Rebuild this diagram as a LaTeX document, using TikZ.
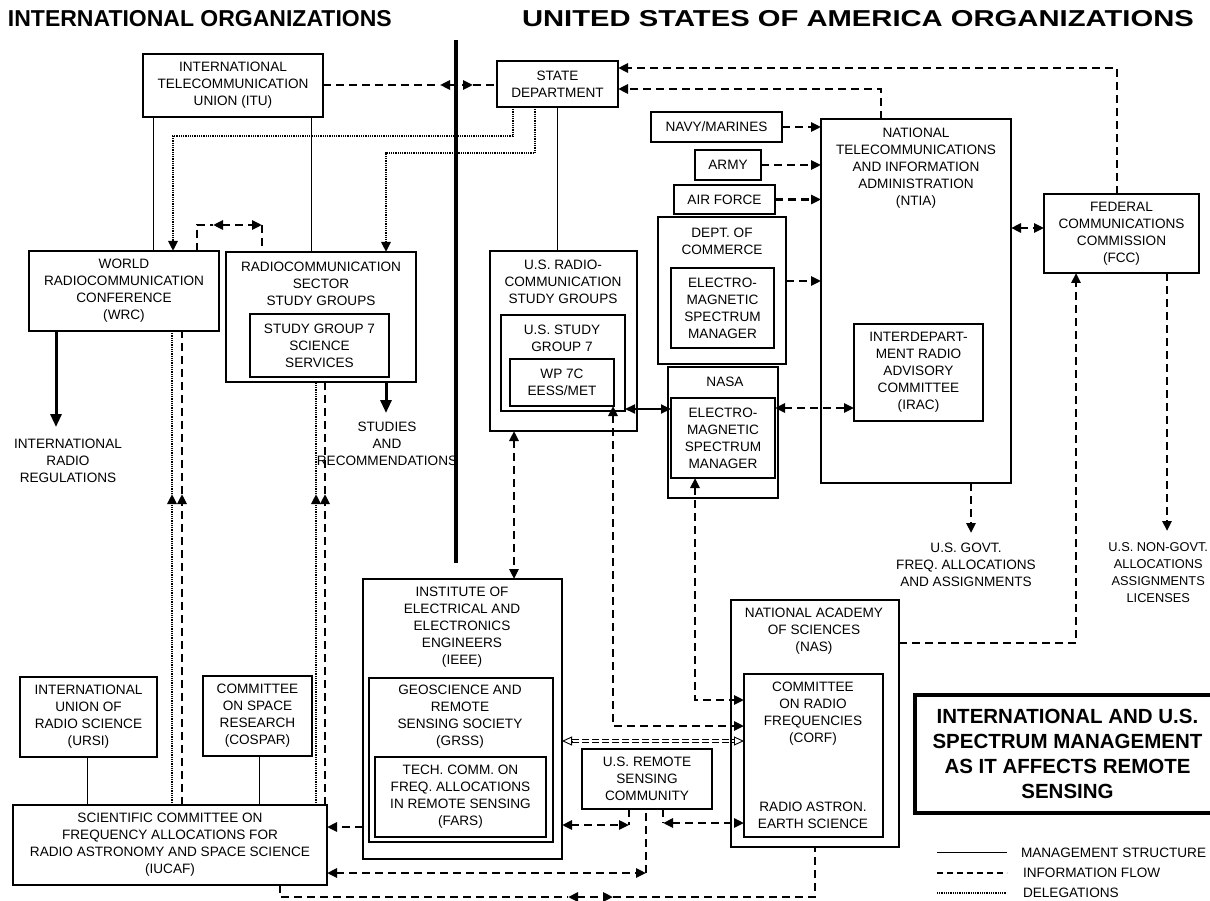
\documentclass[tikz,border=0pt]{standalone}
\usepackage{fontspec}
\setmainfont{Liberation Sans}
\usetikzlibrary{arrows.meta}
\newcommand\bx[6]{\node[boxst, minimum width={(#4-#2)*1pt}, minimum height={(#5-#3)*1pt}] (#1) at ({(#2+#4)/2},{(#3+#5)/2}) {#6};}
\begin{document}
\begin{tikzpicture}[x=1pt,y=-1pt,
  every node/.style={font=\fontsize{13.6pt}{17pt}\selectfont, align=center, inner sep=0pt, outer sep=0pt},
  boxst/.style={draw, line width=1.2pt},
  mgmt/.style={line width=1pt},
  info/.style={line width=2.8pt, dash pattern=on 8pt off 5pt},
  deleg/.style={line width=2.5pt, dash pattern=on 1pt off 0.8pt},
  bigarrow/.style={line width=3pt, -{Triangle[length=13pt,width=11pt]}},
  hollowout/.style={line width=3.2pt, dash pattern=on 7pt off 3pt},
  hollowin/.style={white, line width=1.4pt, dash pattern=on 7pt off 3pt},
  opentip/.style={line width=0.9pt, -{Triangle[open,length=10pt,width=9pt]}},
  >={Triangle[length=10pt,width=9pt]}
]
\fill[white] (0,0) rectangle (1210,901);
\useasboundingbox (0,0) rectangle (1210,901);

% headings
\node[anchor=west, font=\bfseries\fontsize{23pt}{27pt}\selectfont] (hInt) at (8,19) {INTERNATIONAL ORGANIZATIONS};
\node[anchor=west, font=\bfseries\fontsize{23pt}{27pt}\selectfont] (hUS) at (522,19) {\scalebox{1.27}[1]{UNITED STATES OF AMERICA ORGANIZATIONS}};
\draw[line width=4pt] (456,40) -- (456,563);

% boxes
\bx{ITU}{143}{54}{323}{117}{INTERNATIONAL\\TELECOMMUNICATION\\UNION (ITU)}
\bx{State}{497}{61}{618}{107}{STATE\\DEPARTMENT}
\bx{Navy}{651}{112}{782}{142}{NAVY/MARINES}
\bx{Army}{695}{150}{761}{180}{ARMY}
\bx{AirF}{674}{185}{775}{214}{AIR FORCE}
\bx{Com}{658}{217}{786}{364}{}
\node (comT) at (722,241) {DEPT. OF\\COMMERCE};
\bx{ComEMS}{671}{268}{774}{348}{ELECTRO-\\MAGNETIC\\SPECTRUM\\MANAGER}
\bx{NTIA}{821}{119}{1011}{483}{}
\node (ntiaT) at (916,168) {NATIONAL\\TELECOMMUNICATIONS\\AND INFORMATION\\ADMINISTRATION\\(NTIA)};
\bx{IRAC}{854}{324}{983}{421}{INTERDEPART-\\MENT RADIO\\ADVISORY\\COMMITTEE\\(IRAC)}
\bx{FCC}{1044}{194}{1199}{273}{FEDERAL\\COMMUNICATIONS\\COMMISSION\\(FCC)}
\bx{WRC}{29}{251}{219}{331}{WORLD\\RADIOCOMMUNICATION\\CONFERENCE\\(WRC)}
\bx{RSG}{226}{252}{416}{382}{}
\node (rsgT) at (321,284) {RADIOCOMMUNICATION\\SECTOR\\STUDY GROUPS};
\bx{SG7}{250}{314}{389}{377}{STUDY GROUP 7\\SCIENCE\\SERVICES}
\bx{URSI}{20}{677}{157}{757}{INTERNATIONAL\\UNION OF\\RADIO SCIENCE\\(URSI)}
\bx{COSPAR}{203}{676}{312}{756}{COMMITTEE\\ON SPACE\\RESEARCH\\(COSPAR)}
\bx{IUCAF}{13}{805}{327}{885}{SCIENTIFIC COMMITTEE ON\\FREQUENCY ALLOCATIONS FOR\\RADIO ASTRONOMY AND SPACE SCIENCE\\(IUCAF)}
\bx{IEEE}{363}{579}{562}{859}{}
\node (ieeeT) at (462,627) {INSTITUTE OF\\ELECTRICAL AND\\ELECTRONICS\\ENGINEERS\\(IEEE)};
\bx{GRSS}{369}{678}{553}{842}{}
\node (grssT) at (460,717) {GEOSCIENCE AND\\REMOTE\\SENSING SOCIETY\\(GRSS)};
\bx{FARS}{375}{757}{546}{837}{TECH. COMM. ON\\FREQ. ALLOCATIONS\\IN REMOTE SENSING\\(FARS)}
\bx{USR}{490}{251}{637}{431}{}
\node (usrT) at (563,282) {U.S. RADIO-\\COMMUNICATION\\STUDY GROUPS};
\bx{USSG}{501}{315}{625}{411}{}
\node (ussgT) at (562,338) {U.S. STUDY\\GROUP 7};
\bx{WP}{510}{359}{614}{406}{WP 7C\\EESS/MET}
\bx{NASA}{668}{367}{778}{498}{}
\node (nasaT) at (725,382) {NASA};
\bx{NEMS}{671}{398}{775}{478}{ELECTRO-\\MAGNETIC\\SPECTRUM\\MANAGER}
\bx{NAS}{731}{600}{899}{847}{}
\node (nasT) at (814,631) {NATIONAL ACADEMY\\OF SCIENCES\\(NAS)};
\bx{CORF}{744}{674}{883}{837}{}
\node (corfT) at (813,714) {COMMITTEE\\ON RADIO\\FREQUENCIES\\(CORF)};
\node (corfT2) at (813,815) {RADIO ASTRON.\\EARTH SCIENCE};
\bx{USRS}{582}{749}{712}{809}{U.S. REMOTE\\SENSING\\COMMUNITY}

% free texts
\node (irT) at (68,461) {INTERNATIONAL\\RADIO\\REGULATIONS};
\node (srT) at (387,444) {STUDIES\\AND\\RECOMMENDATIONS};
\node (gvT) at (966,565) {U.S. GOVT.\\FREQ. ALLOCATIONS\\AND ASSIGNMENTS};
\node[anchor=east, font=\fontsize{12.8pt}{17pt}\selectfont] (ngT) at (1208,573) {U.S. NON-GOVT.\\ALLOCATIONS\\ASSIGNMENTS\\LICENSES};

% title box
\node[draw, line width=4pt, minimum width=305pt, minimum height=118pt, font=\bfseries\fontsize{20.5pt}{25pt}\selectfont] (title) at (1067.5,754) {INTERNATIONAL AND U.S.\\SPECTRUM MANAGEMENT\\AS IT AFFECTS REMOTE\\SENSING};

% legend
\coordinate (l1a) at (937,852); \coordinate (l1b) at (1007,852);
\coordinate (l2a) at (937,873); \coordinate (l2b) at (1007,873);
\coordinate (l3a) at (937,893); \coordinate (l3b) at (1007,893);
\draw[mgmt] (l1a) -- (l1b);
\draw[info, line width=2.2pt, dash pattern=on 6pt off 4pt] (l2a) -- (l2b);
\draw[deleg, line width=2pt] (l3a) -- (l3b);
\node[anchor=west] (lg1) at (1021,853) {MANAGEMENT STRUCTURE};
\node[anchor=west] (lg2) at (1023,873) {INFORMATION FLOW};
\node[anchor=west] (lg3) at (1023,893) {DELEGATIONS};

% --- connectors ---
% ITU <-> State
\coordinate (m1) at (440,85); \coordinate (m2) at (473,85);
\draw[info] (ITU.east |- 0,85) -- (m1);
\draw[info,<->] (m1) -- (m2);
\draw[info] (m2) -- (State.west |- 0,85);
% FCC, NTIA -> State
\draw[info,->] (FCC.north -| 1117,0) |- (State.east |- 0,68);
\draw[info,->] (NTIA.north -| 881,0) |- (State.east |- 0,89);
% agencies -> NTIA
\draw[info,->] (Navy.east) -- (Navy.east -| NTIA.west);
\draw[info,->] (Army.east) -- (Army.east -| NTIA.west);
\draw[info,->] (AirF.east) -- (AirF.east -| NTIA.west);
\draw[info,->] (Com.east |- 0,281) -- (NTIA.west |- 0,281);
\draw[info,<->] (NTIA.east |- 0,228) -- (FCC.west |- 0,228);
\coordinate (ngTop) at (1167,531);
\draw[info,->] (FCC.south -| 1167,0) -- (ngTop);
\coordinate (gvTop) at (971,533);
\draw[info,->] (NTIA.south -| 971,0) -- (gvTop);
\draw[info,->] (NAS.east |- 0,643) -| (FCC.south -| 1076,0);
% ITU management
\draw[mgmt] (ITU.south -| 153,0) -- (WRC.north -| 153,0);
\draw[mgmt] (ITU.south -| 311,0) -- (RSG.north -| 311,0);
% State delegations
\draw[deleg,->] (State.south -| 513,0) |- (173,136) -- (WRC.north -| 173,0);
\draw[deleg,->] (State.south -| 535,0) |- (386,153) -- (RSG.north -| 386,0);
% WRC <-> RSG
\coordinate (w1) at (213,225); \coordinate (w2) at (262,225);
\draw[info] (WRC.north -| 197,0) |- (w1);
\draw[info,<->] (w1) -- (w2);
\draw[info] (w2) -- (RSG.north -| 262,0);
% outputs
\coordinate (irTop) at (56,427);
\draw[bigarrow] (WRC.south -| 56,0) -- (irTop);
\coordinate (srTop) at (386,413);
\draw[bigarrow] (RSG.south -| 386,0) -- (srTop);
% IUCAF up to WRC / RSG
\coordinate (d1) at (172,494); \coordinate (d2) at (182,494);
\coordinate (d3) at (316,494); \coordinate (d4) at (325,494);
\draw[deleg,->] (IUCAF.north -| 172,0) -- (d1);
\draw[deleg] (d1) -- (WRC.south -| 172,0);
\draw[info,->] (IUCAF.north -| 182,0) -- (d2);
\draw[info] (d2) -- (WRC.south -| 182,0);
\draw[deleg,->] (IUCAF.north -| 316,0) -- (d3);
\draw[deleg] (d3) -- (RSG.south -| 316,0);
\draw[info,->] (IUCAF.north -| 325,0) -- (d4);
\draw[info] (d4) -- (RSG.south -| 325,0);
% URSI, COSPAR
\draw[mgmt] (URSI.south -| 87,0) -- (IUCAF.north -| 87,0);
\draw[mgmt] (COSPAR.south -| 259,0) -- (IUCAF.north -| 259,0);
% IEEE -> IUCAF
\draw[info,->] (IEEE.west |- 0,827) -- (IUCAF.east |- 0,827);
% IUCAF <-> USRS
\coordinate (c26) at (646,873);
\draw[info,<->] (IUCAF.east |- 0,873) -- (c26);
\draw[info] (c26) -- (USRS.south -| 646,0);
% bottom IUCAF <-> NAS
\coordinate (b3) at (568,897); \coordinate (b4) at (613,897);
\draw[info] (IUCAF.south -| 280,0) |- (b3);
\draw[info,<->] (b3) -- (b4);
\draw[info] (b4) -| (NAS.south -| 815,0);
% US side
\draw[info,<->] (USR.south -| 514,0) -- (IEEE.north -| 514,0);
\draw[mgmt] (State.south -| 557,0) -- (USR.north -| 557,0);
\draw[info,<->] (WP.south -| 613,0) |- (CORF.west |- 0,726);
\draw[line width=2pt,<->] (USSG.east |- 0,409) -- (NEMS.west |- 0,409);
\draw[info,<->] (NEMS.east |- 0,408) -- (IRAC.west |- 0,408);
\draw[info,<->] (NEMS.south -| 695,0) |- (CORF.west |- 0,700);
% IEEE <-> CORF (hollow dashed, open heads)
\coordinate (o1) at (572,741); \coordinate (o2) at (734,741);
\draw[hollowout] (o1) -- (o2);
\draw[hollowin] (o1) -- (o2);
\draw[opentip] (o1) -- (IEEE.east |- 0,741);
\draw[opentip] (o2) -- (CORF.west |- 0,741);
\coordinate (c35) at (629,825);
\draw[info] (USRS.south -| 629,0) -- (c35);
\draw[info,<->] (IEEE.east |- 0,825) -- (c35);
\coordinate (c36) at (663,823);
\draw[info] (USRS.south -| 663,0) -- (c36);
\draw[info,<->] (c36) -- (CORF.west |- 0,823);
\end{tikzpicture}
\end{document}
